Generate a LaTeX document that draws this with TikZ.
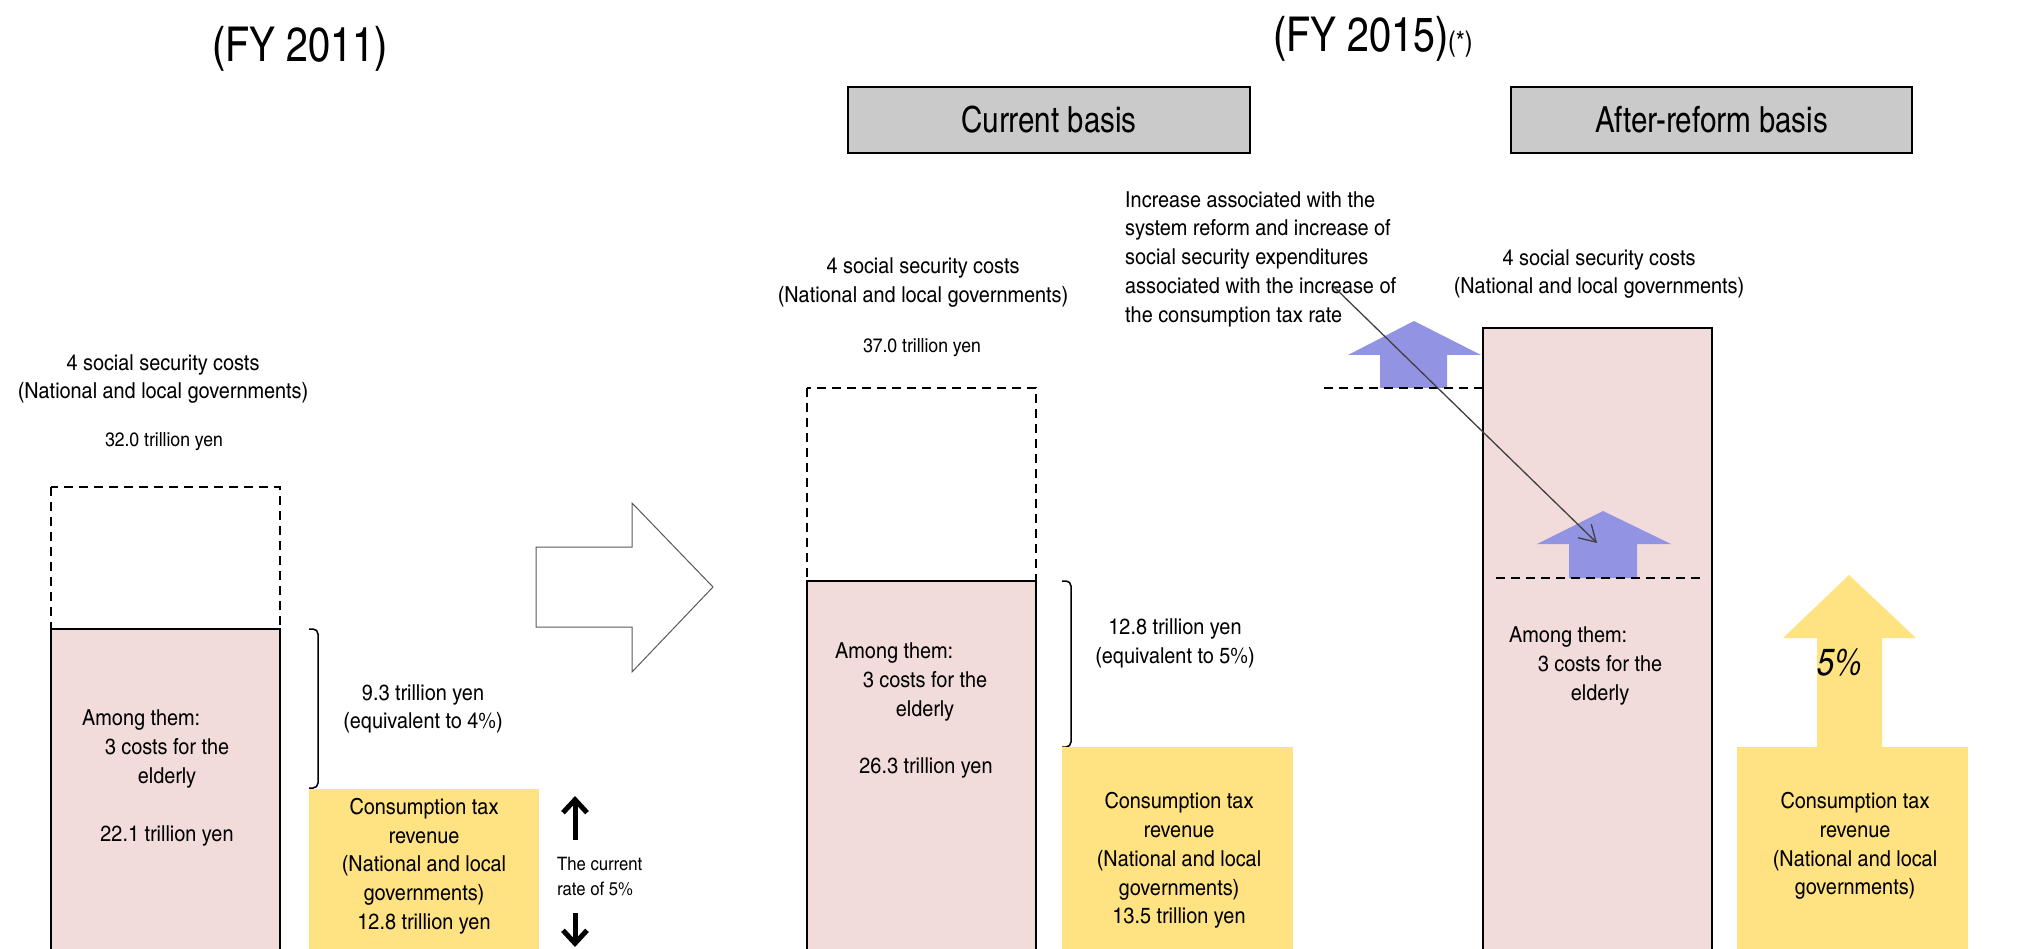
\documentclass[tikz,border=0pt]{standalone}
\usepackage{fontspec}
\setmainfont{texgyreheroscn}[Extension=.otf, UprightFont=*-regular, ItalicFont=*-italic, BoldFont=*-bold, BoldItalicFont=*-bolditalic, FakeStretch=1.1]
\newfontfamily\titlefont{texgyreheroscn}[Extension=.otf, UprightFont=*-regular, ItalicFont=*-italic]
\usetikzlibrary{arrows.meta}
\definecolor{pinkfill}{HTML}{F2DCDB}
\definecolor{yellowfill}{HTML}{FFE382}
\definecolor{bluefill}{HTML}{9393E4}
\definecolor{hdrgray}{HTML}{CACACA}
\definecolor{leadgray}{HTML}{404040}
\tikzset{
  lbl/.style={inner sep=0pt, align=center, font=\fontsize{22}{28.75}\selectfont},
  lbll/.style={inner sep=0pt, align=left, font=\fontsize{22}{28.75}\selectfont},
  smalllbl/.style={inner sep=0pt, align=center, font=\fontsize{19.5}{24}\selectfont},
  titlelbl/.style={inner sep=0pt, font=\titlefont\fontsize{48}{56}\selectfont},
  hdrbox/.style={draw=black, line width=1.6pt, fill=hdrgray, inner sep=0pt, font=\titlefont\fontsize{36}{42}\selectfont},
  pinkbar/.style={draw=black, line width=1.5pt, fill=pinkfill},
  dashbox/.style={draw=black, line width=1.5pt, dash pattern=on 9pt off 6pt},
  yellowbar/.style={fill=yellowfill},
  bluearrow/.style={fill=bluefill},
  bracket/.style={draw=black, line width=1.5pt, rounded corners=5pt},
  ratearrow/.style={line width=5pt, -{Straight Barb[length=13pt, width=24pt, line width=5pt]}},
  leader/.style={draw=leadgray, line width=1.3pt, -{Straight Barb[length=16pt, width=19pt, line width=1.3pt]}},
  bigarrow/.style={draw=black!65, line width=1pt, fill=white},
  dashline/.style={draw=black, line width=1.5pt, dash pattern=on 9pt off 6pt}
}
\begin{document}
\begin{tikzpicture}[x=1pt,y=-1pt]
\useasboundingbox (0,0) rectangle (2022,949);

% ---------- Titles ----------
\node[titlelbl] (t2011) at (300,49) {(FY 2011)};
\node[titlelbl, anchor=base west] (t2015) at (1273,52) {(FY 2015)\fontsize{28}{32}\selectfont(*)};
\node[hdrbox, minimum width=402pt, minimum height=66pt] (hcur) at (1049,120) {Current basis};
\node[hdrbox, minimum width=401pt, minimum height=66pt] (haft) at (1711.5,120) {After-reform basis};

% ---------- FY 2011 ----------
\node[lbl] (ss1) at (163,379) {4 social security costs\\(National and local governments)};
\node[smalllbl] (amt32) at (164,442) {32.0 trillion yen};
\path[dashbox] (51,487) rectangle (280,629);
\path[pinkbar] (51,629) rectangle (280,965);
\node[lbll, anchor=west] (among1) at (82,720) {Among them:};
\node[lbl] (eld1) at (167,763.5) {3 costs for the\\elderly};
\node[lbl] (amt221) at (167,836) {22.1 trillion yen};
\path[bracket] (309,629) -- (318,629) -- (318,788) -- (309,788);
\node[lbl] (eq4) at (423,709) {9.3 trillion yen\\(equivalent to 4\%)};
\path[yellowbar] (309,789) rectangle (539,965);
\node[lbl] (ct1) at (424,866) {Consumption tax\\revenue\\(National and local\\governments)\\12.8 trillion yen};
\coordinate (upS) at (575,840);
\coordinate (upE) at (575,796);
\coordinate (dnS) at (575,913);
\coordinate (dnE) at (575,947);
\draw[ratearrow] (upS) -- (upE);
\draw[ratearrow] (dnS) -- (dnE);
\node[inner sep=0pt, align=left, anchor=west, font=\fontsize{18.5}{25}\selectfont] (rate) at (557,876.5) {The current\\rate of 5\%};

% ---------- transition arrow ----------
\path[bigarrow] (536,547) -- (632,547) -- (632,503) -- (713,587) -- (632,672) -- (632,627) -- (536,627) -- cycle;

% ---------- FY 2015 current basis ----------
\node[lbl] (ss2) at (923,282.5) {4 social security costs\\(National and local governments)};
\node[smalllbl] (amt37) at (922,348) {37.0 trillion yen};
\path[dashbox] (807,388) rectangle (1036,581);
\path[pinkbar] (807,581) rectangle (1036,965);
\node[lbll, anchor=west] (among2) at (835,653) {Among them:};
\node[lbl] (eld2) at (925,696.5) {3 costs for the\\elderly};
\node[lbl] (amt263) at (926,768) {26.3 trillion yen};
\path[bracket] (1062,581) -- (1071,581) -- (1071,747) -- (1062,747);
\node[lbl] (eq5) at (1175,643.5) {12.8 trillion yen\\(equivalent to 5\%)};
\path[yellowbar] (1062,747) rectangle (1293,965);
\node[lbl] (ct2) at (1179,860.5) {Consumption tax\\revenue\\(National and local\\governments)\\13.5 trillion yen};

% ---------- FY 2015 after-reform basis ----------
\node[lbl] (ss3) at (1599,274) {4 social security costs\\(National and local governments)};
\path[pinkbar] (1483,328) rectangle (1712,965);
\node[lbll, anchor=west] (incr) at (1125,259) {Increase associated with the\\system reform and increase of\\social security expenditures\\associated with the increase of\\the consumption tax rate};
\path[bluearrow] (1380,388) -- (1380,355) -- (1348,355) -- (1414,321) -- (1481,355) -- (1447,355) -- (1447,388) -- cycle;
\path[dashline] (1324,388) -- (1484,388);
\path[bluearrow] (1569,578) -- (1569,544) -- (1537,544) -- (1603,511) -- (1671,544) -- (1637,544) -- (1637,578) -- cycle;
\path[dashline] (1496,578) -- (1700,578);
\coordinate (lstart) at (1334,287);
\coordinate (lend) at (1597,543);
\draw[leader] (lstart) -- (lend);
\node[lbll, anchor=west] (among3) at (1509,637) {Among them:};
\node[lbl] (eld3) at (1600,680.5) {3 costs for the\\elderly};
\path[yellowbar] (1817,750) -- (1817,638) -- (1783,638) -- (1849,575) -- (1916,638) -- (1882,638) -- (1882,750) -- cycle;
\node[inner sep=0pt, font=\titlefont\fontsize{38}{44}\selectfont\itshape] (pct) at (1840,663) {5\%};
\path[yellowbar] (1737,747) rectangle (1968,965);
\node[lbl] (ct3) at (1855,846) {Consumption tax\\revenue\\(National and local\\governments)};
\end{tikzpicture}
\end{document}
